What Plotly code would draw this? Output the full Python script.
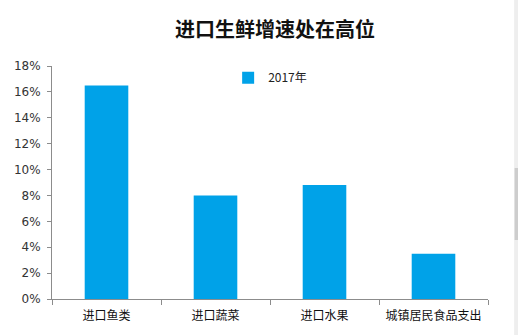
import plotly.graph_objects as go

categories = ["进口鱼类", "进口蔬菜", "进口水果", "城镇居民食品支出"]
growth_2017 = [0.165, 0.080, 0.088, 0.035]
series_name = "2017年"
y_ticks = [0, 0.02, 0.04, 0.06, 0.08, 0.10, 0.12, 0.14, 0.16, 0.18]

cjk = "Noto Sans CJK SC"

fig = go.Figure()
fig.add_trace(go.Bar(
    x=categories,
    y=growth_2017,
    name=series_name,
    marker=dict(color="#00A2E8", line=dict(width=0)),
    width=0.4,
    showlegend=True,
))

fig.update_layout(
    width=518,
    height=335,
    margin=dict(l=52, r=30, t=66, b=36),
    paper_bgcolor="white",
    plot_bgcolor="white",
    title=dict(
        text="<b>进口生鲜增速处在高位</b>",
        x=0.531, xanchor="center",
        y=0.91, yanchor="middle",
        font=dict(family=cjk, size=20, color="#111111"),
    ),
    legend=dict(
        x=0.404, xanchor="left",
        y=0.95, yanchor="middle",
        font=dict(family=cjk, size=12, color="#222222"),
        bgcolor="rgba(0,0,0,0)",
        itemwidth=30,
    ),
    showlegend=True,
    xaxis=dict(
        type="category",
        range=[-0.5, 3.5],
        showline=True, linecolor="#8C8C8C", linewidth=1,
        ticks="outside", tickson="boundaries", ticklen=5, tickcolor="#8C8C8C",
        tickfont=dict(family=cjk, size=12, color="#111111"),
        ticklabelstandoff=6,
        showgrid=False, zeroline=False,
    ),
    yaxis=dict(
        range=[0, 0.18],
        tickvals=y_ticks,
        tickformat=".0%",
        showline=True, linecolor="#8C8C8C", linewidth=1,
        ticks="outside", ticklen=4, tickcolor="#8C8C8C",
        tickfont=dict(family="DejaVu Sans", size=12, color="#333333"),
        ticklabelstandoff=4,
        showgrid=False, zeroline=False,
    ),
    shapes=[
        dict(type="rect", xref="paper", yref="paper",
             x0=1.06, x1=1.09, y0=-0.2, y1=1.3,
             fillcolor="#EEEEEE", line=dict(width=0), layer="below"),
        dict(type="rect", xref="paper", yref="paper",
             x0=1.061, x1=1.09, y0=(299 - 240) / 233, y1=(299 - 168) / 233,
             fillcolor="#CDCDCD", line=dict(width=0), layer="below"),
    ],
)

fig.write_html("out.html")
